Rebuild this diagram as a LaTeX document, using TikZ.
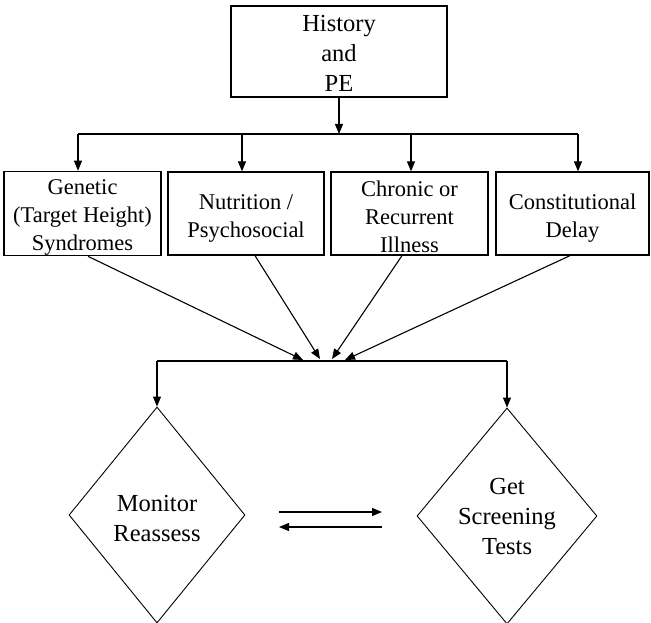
\documentclass[tikz,border=0pt]{standalone}
\usepackage{fontspec}
\setmainfont{Liberation Serif}
\usetikzlibrary{shapes.geometric,arrows.meta}
% taller first line, so that the text block sits a little lower in its shape
\newcommand\firstline[1]{\rule{0pt}{#1}}
\begin{document}
\begin{tikzpicture}[x=1pt,y=-1pt,
  every node/.style={font=\fontsize{22.5}{28}\selectfont, align=center, inner sep=0pt},
  box/.style={draw, line width=1.3pt, rectangle, minimum height=83pt},
  decision/.style={draw, line width=0.9pt, diamond, aspect=0.83,
    minimum height=216pt, font=\fontsize{24.5}{30}\selectfont},
  flow/.style={line width=1.1pt, -{Triangle[length=10pt,width=8pt]}},
  link/.style={line width=1.1pt}
]
\useasboundingbox (0,0) rectangle (651,623);

% starting point
\node[box, minimum width=216pt, minimum height=91pt,
      font=\fontsize{24.5}{30}\selectfont] (hist) at (339,51.5)
      {\firstline{20.5pt}History\\and\\PE};

% the four causes
\node[box, minimum width=157pt] (gen) at (82.5,213.5)
      {\firstline{23.5pt}Genetic\\(Target Height)\\Syndromes};
\node[box, minimum width=156pt] (nut) at (246,213.5)
      {\firstline{25pt}Nutrition /\\Psychosocial};
\node[box, minimum width=157pt] (chr) at (409.5,213.5)
      {\firstline{22pt}Chronic or\\Recurrent\\Illness};
\node[box, minimum width=153pt] (con) at (572.5,213.5)
      {\firstline{25pt}Constitutional\\Delay};

% the two decisions
\node[decision, minimum width=176pt] (mon) at (157,515)
      {\firstline{24pt}Monitor\\Reassess};
\node[decision, minimum width=180pt] (scr) at (507,516)
      {\firstline{18pt}Get\\Screening\\Tests};

% upper distribution bus
\coordinate (u1) at (78,134);
\coordinate (u2) at (242,134);
\coordinate (u3) at (411,134);
\coordinate (u4) at (578,134);
\draw[link] (u1) -- (u4);
\draw[flow] (hist.south) -- (hist.south |- u1);
\draw[flow] (u1) -- (u1 |- gen.north);
\draw[flow] (u2) -- (u2 |- nut.north);
\draw[flow] (u3) -- (u3 |- chr.north);
\draw[flow] (u4) -- (u4 |- con.north);

% converging arrows onto the lower bus
\coordinate (t1) at (303,360);
\coordinate (t2) at (320,359);
\coordinate (t3) at (332,359);
\coordinate (t4) at (345,360);
\draw[flow] ([xshift=5.5pt]gen.south) -- (t1);
\draw[flow] ([xshift=9pt]nut.south) -- (t2);
\draw[flow] ([xshift=-7.5pt]chr.south) -- (t3);
\draw[flow] ([xshift=-2.5pt]con.south) -- (t4);

% lower bus to the decisions
\coordinate (m1) at (157,361);
\coordinate (m2) at (507,361);
\draw[link] (m1) -- (m2);
\draw[flow] (m1) -- (mon.north);
\draw[flow] (m2) -- (scr.north);

% back and forth between monitoring and screening
\coordinate (a1) at (279,512);
\coordinate (a2) at (382,512);
\coordinate (a3) at (382,527);
\coordinate (a4) at (279,527);
\draw[flow] (a1) -- (a2);
\draw[flow] (a3) -- (a4);
\end{tikzpicture}
\end{document}
